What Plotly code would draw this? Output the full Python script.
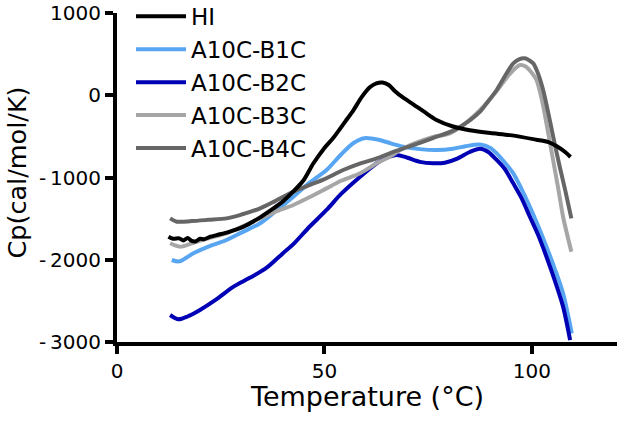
import plotly.graph_objects as go

# ---------------- data ----------------
names = ["HI", "A10C-B1C", "A10C-B2C", "A10C-B3C", "A10C-B4C"]
colors = ["#000000", "#58A6F2", "#0000B4", "#A6A6A6", "#666666"]

x_hi = [12.4, 13.5, 15, 16, 17, 18, 19, 20, 21, 22.5, 24, 27, 30.4, 34, 37, 40, 42.5, 45,
        47.3, 50, 52.1, 55, 57, 59, 61, 62.5, 64, 65.5, 67, 69, 71.4, 74, 77, 81, 85, 90,
        94.7, 101, 104, 106, 108, 109.3]
y_hi = [-1720, -1745, -1740, -1765, -1735, -1770, -1775, -1745, -1750, -1720, -1700, -1660,
        -1600, -1500, -1400, -1290, -1170, -1030, -830, -640, -520, -320, -180, -20, 100,
        145, 155, 125, 50, -30, -110, -200, -300, -380, -425, -460, -485, -540, -570, -620,
        -690, -750]

x_b1 = [13.2, 15, 18.4, 22, 26.4, 30, 34.5, 38, 42.5, 46, 50.5, 54, 57, 59.6, 63, 66, 69,
        73, 77, 81, 84, 87.5, 90, 91.5, 93.5, 95.5, 97.5, 99.5, 101.5, 103.5, 105.5,
        107.5, 109.6]
y_b1 = [-2003, -2020, -1922, -1840, -1760, -1670, -1557, -1420, -1233, -1080, -909, -720,
        -580, -522, -540, -585, -625, -655, -666, -650, -620, -600, -640, -706, -820,
        -949, -1140, -1355, -1590, -1841, -2110, -2408, -2894]

x_b2 = [12.8, 14.8, 17, 20, 24, 28, 32, 36, 40, 42.5, 46, 50.5, 54, 58.6, 62.6, 65, 67.4,
        70, 73, 76.2, 79, 82, 85, 87.5, 89.5, 91.5, 93.5, 95.5, 97.5, 99.5, 101.5,
        103.5, 105.5, 107.5, 109.2]
y_b2 = [-2672, -2724, -2690, -2611, -2480, -2330, -2220, -2100, -1920, -1810, -1620,
        -1395, -1200, -990, -827, -760, -726, -760, -810, -827, -820, -770, -690, -650,
        -690, -787, -900, -1071, -1250, -1477, -1700, -1963, -2250, -2570, -2976]

x_b3 = [12.8, 15.2, 18, 22, 26.4, 30, 34.5, 38, 42.5, 46, 50.5, 54, 58.6, 62.6, 66, 68.2,
        72, 76, 80.2, 84, 88.3, 90.5, 92.3, 94.5, 96, 97.1, 98.5, 100, 101.1, 102.5,
        103.5, 105.1, 106.5, 107.5, 109.5]
y_b3 = [-1800, -1841, -1800, -1740, -1679, -1600, -1497, -1420, -1334, -1250, -1132,
        -1040, -949, -827, -740, -666, -580, -510, -463, -340, -139, -10, 104, 250, 330,
        368, 350, 270, 185, -80, -341, -787, -1180, -1477, -1902]

x_b4 = [12.8, 14.4, 18, 22, 26.4, 30, 34.5, 38, 42.5, 46.5, 50, 54.5, 58, 62.6, 66, 70,
        74, 77, 81, 85.1, 87.5, 89.1, 91.5, 93.9, 95.5, 97, 98.3, 99.5, 100.3, 101.5,
        102.7, 104, 105.1, 106.7, 108, 109.5]
y_b4 = [-1497, -1537, -1530, -1515, -1497, -1450, -1375, -1290, -1172, -1091, -1020,
        -909, -840, -767, -700, -630, -560, -504, -430, -301, -200, -98, 64, 267, 388,
        440, 449, 420, 388, 260, 64, -230, -500, -869, -1150, -1497]

x_ticks = [0, 50, 100]
y_ticks = [-3000, -2000, -1000, 0, 1000]
y_ticktext = ["-\u20093000", "-\u20092000", "-\u20091000", "0", "1000"]
x_title = "Temperature (°C)"
y_title = "Cp(cal/mol/K)"

series = [(x_hi, y_hi), (x_b1, y_b1), (x_b2, y_b2), (x_b3, y_b3), (x_b4, y_b4)]

FONT = "DejaVu Sans, Verdana, sans-serif"

fig = go.Figure()
# draw order: coloured series first, HI on top
for i in [1, 2, 3, 4, 0]:
    xs, ys = series[i]
    fig.add_trace(go.Scatter(
        x=xs, y=ys, mode="lines", name=names[i],
        line=dict(color=colors[i], width=4, shape="spline", smoothing=0.8),
        legendrank=i + 1, legendgroup=names[i],
    ))

fig.update_layout(
    width=620, height=426,
    margin=dict(l=117, r=3, t=13, b=84, autoexpand=False),
    paper_bgcolor="white", plot_bgcolor="white",
    font=dict(family=FONT, color="black"),
    showlegend=True,
    legend=dict(
        x=0.028, y=1.055, xanchor="left", yanchor="top", yref="paper",
        font=dict(family=FONT, size=23, color="black"),
        bgcolor="rgba(0,0,0,0)", tracegroupgap=2, itemwidth=50,
        traceorder="normal",
    ),
    annotations=[
        dict(text=x_title, xref="paper", yref="paper", x=0.5, y=0, yshift=-54,
             xanchor="center", yanchor="middle", showarrow=False,
             font=dict(family=FONT, size=27, color="black")),
        dict(text=y_title, xref="paper", yref="paper", x=0, y=0.5, xshift=-101, yshift=5,
             xanchor="center", yanchor="middle", showarrow=False, textangle=-90,
             font=dict(family=FONT, size=25.5, color="black")),
    ],
)

fig.update_xaxes(
    range=[0, 120.5], tickvals=x_ticks, ticktext=[str(v) for v in x_ticks],
    showline=True, linecolor="black", linewidth=4,
    ticks="outside", ticklen=8, tickwidth=4, tickcolor="black",
    tickfont=dict(family=FONT, size=20, color="black"), ticklabelstandoff=0,
    showgrid=False, zeroline=False, automargin=False,
)
fig.update_yaxes(
    range=[-3000, 1000], tickvals=y_ticks, ticktext=y_ticktext,
    showline=True, linecolor="black", linewidth=4,
    ticks="outside", ticklen=8, tickwidth=4, tickcolor="black",
    tickfont=dict(family=FONT, size=20, color="black"), ticklabelstandoff=0,
    showgrid=False, zeroline=False, automargin=False,
)

fig.write_html("out.html", config={"displayModeBar": False},
               post_script="document.body.style.margin='0';document.body.style.padding='0';")
